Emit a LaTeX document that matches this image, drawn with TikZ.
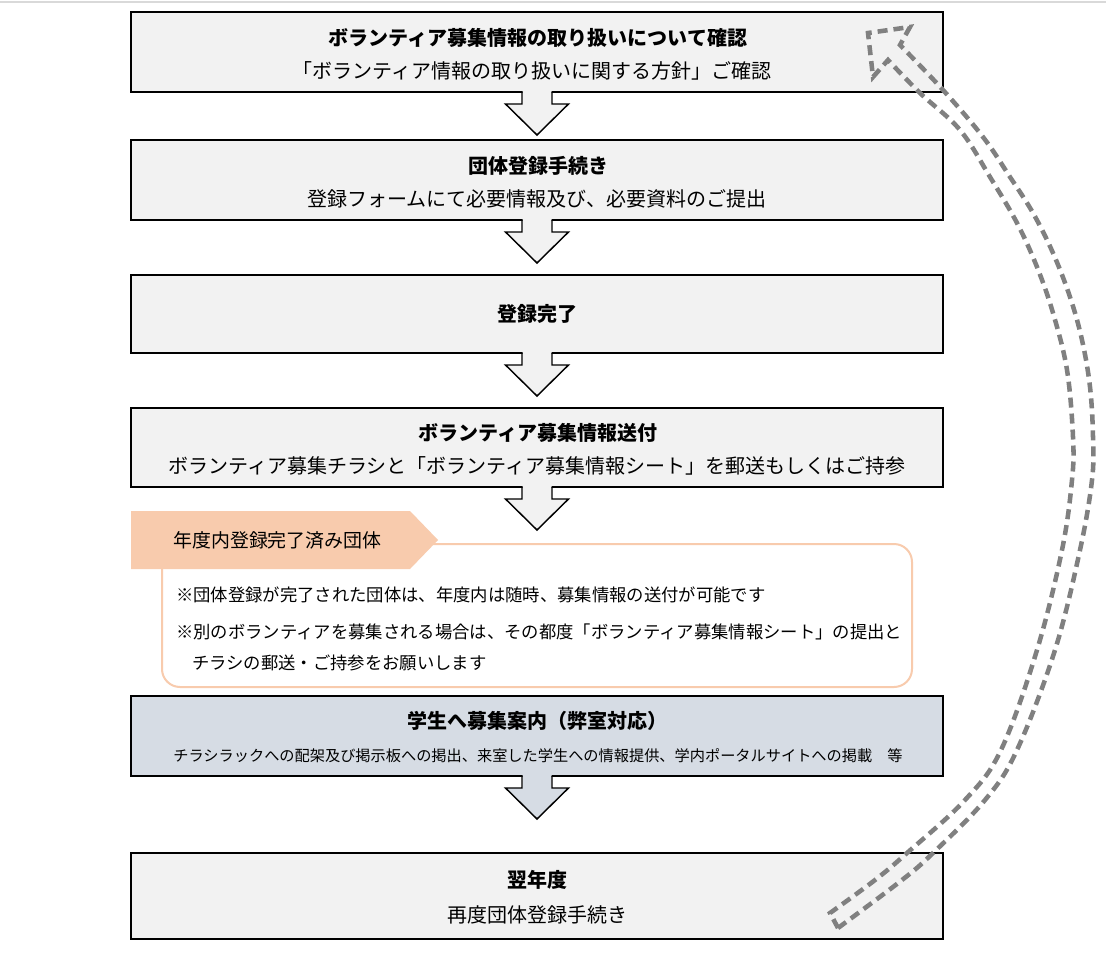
\documentclass[tikz,border=0pt]{standalone}
\usepackage{fontspec}
\newfontfamily\jp{Noto Sans CJK JP}
\usetikzlibrary{calc}
\definecolor{boxgray}{HTML}{F2F2F2}
\definecolor{boxblue}{HTML}{D6DCE4}
\definecolor{peach}{HTML}{F8CBAD}
\definecolor{dashgray}{HTML}{808080}
\definecolor{topline}{HTML}{D9D9D9}
\newcommand\flowarrow[2]{%
  \fill[#2] ($(#1.south)+(-14.5,-1.5)$) -- ($(#1.south)+(-14.5,12)$) -- ($(#1.south)+(-31.5,12)$) -- ($(#1.south)+(0,43)$) -- ($(#1.south)+(31.5,12)$) -- ($(#1.south)+(14.5,12)$) -- ($(#1.south)+(14.5,-1.5)$) -- cycle;
  \draw[arrline] ($(#1.south)+(-15,0)$) -- ($(#1.south)+(-15,12)$) -- ($(#1.south)+(-31.5,12)$) -- ($(#1.south)+(0,43)$) -- ($(#1.south)+(31.5,12)$) -- ($(#1.south)+(15,12)$) -- ($(#1.south)+(15,0)$);
}
\begin{document}
\begin{tikzpicture}[x=0.75pt, y=-0.75pt,
  box/.style={draw=black, line width=1.1pt, fill=boxgray, minimum width=609pt, minimum height=60pt, outer sep=0pt, inner sep=0pt},
  ttl/.style={font=\jp\bfseries\fontsize{15}{18}\selectfont, inner sep=0pt},
  sub/.style={font=\jp\fontsize{15}{18}\selectfont, inner sep=0pt},
  smallsub/.style={font=\jp\fontsize{11.4}{14}\selectfont, inner sep=0pt},
  notetxt/.style={font=\jp\fontsize{13}{15}\selectfont, inner sep=0pt, anchor=west},
  tabtxt/.style={font=\jp\fontsize{14.2}{17}\selectfont, inner sep=0pt, anchor=west},
  arrline/.style={draw=black, line width=1.1pt, line join=miter},
  dasharrow/.style={draw=dashgray, line width=3.4pt, dash pattern=on 7.5pt off 4.5pt, line join=miter}]
\useasboundingbox (0,0) rectangle (1106,970);
\fill[white] (0,0) rectangle (1106,970);
\draw[topline, line width=0.8pt] (0,2) -- (1106,2);

% boxes
\node[box] (b1) at (537,52) {};
\node[ttl] (b1t) at (538,38) {ボランティア募集情報の取り扱いについて確認};
\node[sub] (b1s) at (532,71) {「ボランティア情報の取り扱いに関する方針」ご確認};

\node[box] (b2) at (537,180) {};
\node[ttl] (b2t) at (538,166) {団体登録手続き};
\node[sub] (b2s) at (537,199) {登録フォームにて必要情報及び、必要資料のご提出};

\node[box, minimum height=58.5pt] (b3) at (537,314) {};
\node[ttl] (b3t) at (537,314) {登録完了};

\node[box, minimum height=59.25pt] (b4) at (537,447.5) {};
\node[ttl] (b4t) at (538,433) {ボランティア募集情報送付};
\node[sub] (b4s) at (537,466) {ボランティア募集チラシと「ボランティア募集情報シート」を郵送もしくはご持参};

% note panel
\draw[peach, line width=1.5pt, rounded corners=13.5pt] (162,544) rectangle (912,687);
\fill[peach] (131,511) -- (410,511) -- (438,540) -- (410,569) -- (131,569) -- cycle;
\node[tabtxt] (tab) at (173,540) {年度内登録完了済み団体};
\node[notetxt] (n1) at (176,595) {※団体登録が完了された団体は、年度内は随時、募集情報の送付が可能です};
\node[notetxt] (n2) at (176,632) {※別のボランティアを募集される場合は、その都度「ボランティア募集情報シート」の提出と};
\node[notetxt] (n3) at (192,663) {チラシの郵送・ご持参をお願いします};

\node[box, fill=boxblue] (b5) at (537,736) {};
\node[ttl] (b5t) at (537,721) {学生へ募集案内（弊室対応）};
\node[smallsub] (b5s) at (538,756) {チラシラックへの配架及び掲示板への掲出、来室した学生への情報提供、学内ポータルサイトへの掲載　等};

\node[box, minimum height=64.5pt] (b6) at (537,896) {};
\node[ttl] (b6t) at (537,880) {翌年度};
\node[sub] (b6s) at (537,915) {再度団体登録手続き};

% flow arrows
\flowarrow{b1}{boxgray}
\flowarrow{b2}{boxgray}
\flowarrow{b3}{boxgray}
\flowarrow{b4}{boxgray}
\flowarrow{b5}{boxblue}

% return arrow
\draw[dasharrow] (838,928) -- (830,913) -- plot[smooth, tension=0.6] coordinates {(830,913) (875,880) (907,853) (965,800) (1001,750) (1037,650) (1062,550) (1072,480) (1073,437) (1067,370) (1053,313) (1037,267) (1017,223) (990,177) (960,130) (920,93) (888,60)} -- (873,77) -- (868,33) -- (910,27) -- (900,45) -- plot[smooth, tension=0.6] coordinates {(900,45) (943,90) (983,137) (1010,177) (1033,213) (1053,253) (1070,297) (1082,340) (1090,387) (1093,437) (1092,480) (1080,550) (1055,650) (1017,750) (985,800) (933,853) (902,880) (838,928)} -- cycle;
\end{tikzpicture}
\end{document}
